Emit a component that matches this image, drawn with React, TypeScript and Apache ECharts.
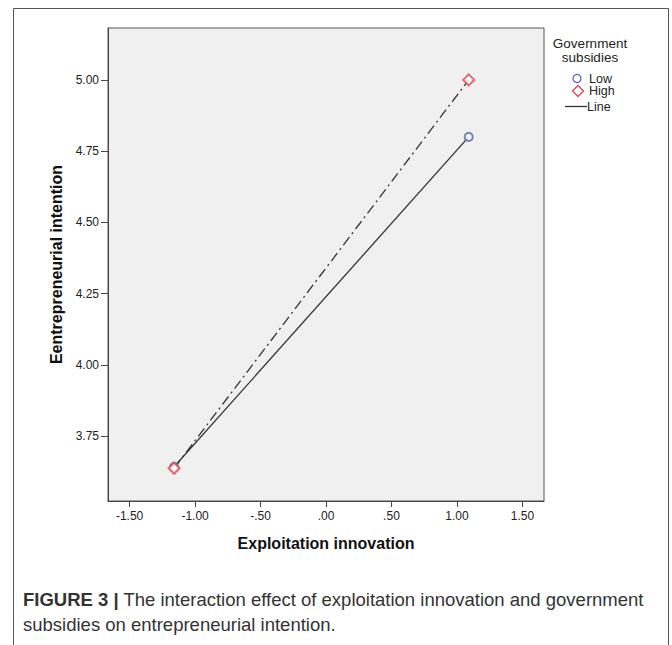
import React, { useEffect, useRef } from "react";
import * as echarts from "echarts";

const groups = ["Low", "High"];
const xValues = [-1.16, 1.09];
const lowValues = [3.643, 4.8];
const highValues = [3.638, 5.0];
const xTicks = [-1.5, -1.0, -0.5, 0, 0.5, 1.0, 1.5];
const xTickLabels = ["-1.50", "-1.00", "-.50", ".00", ".50", "1.00", "1.50"];
const yTicks = [3.75, 4.0, 4.25, 4.5, 4.75, 5.0];
const yTickLabels = ["3.75", "4.00", "4.25", "4.50", "4.75", "5.00"];
const xTitle = "Exploitation innovation";
const yTitle = "Eentrepreneurial intention";
const legendTitle = "Government\nsubsidies";
const lineLegend = "Line";
const captionBold = "FIGURE 3 |";
const captionLine1 = " The interaction effect of exploitation innovation and government";
const captionLine2 = "subsidies on entrepreneurial intention.";

const FONT = "Liberation Sans, Arial, sans-serif";
const LOW_COLOR = "#5566b8";
const HIGH_COLOR = "#e5434d";
const LINE_COLOR = "#333";

function fmt(ticks: number[], labels: string[]) {
  return (v: number) => {
    const i = ticks.findIndex((t) => Math.abs(t - v) < 1e-6);
    return i >= 0 ? labels[i] : "";
  };
}

export default function App() {
  const ref = useRef<HTMLDivElement>(null);
  useEffect(() => {
    if (!ref.current) return;
    const chart = echarts.init(ref.current, undefined, { renderer: "svg" });
    const lowData = xValues.map((x, i) => [x, lowValues[i]]);
    const highData = xValues.map((x, i) => [x, highValues[i]]);
    const legendText = (text: string, x: number, y: number) => ({
      type: "text",
      x,
      y,
      style: {
        text,
        fontFamily: FONT,
        fontSize: 12.5,
        lineHeight: 12,
        fill: "#222",
        verticalAlign: "middle",
        align: "left",
      },
    });
    chart.setOption({
      animation: false,
      backgroundColor: "#ffffff",
      grid: {
        left: 108,
        top: 28,
        right: 128,
        bottom: 144,
        show: true,
        backgroundColor: "#f0f0f0",
        borderColor: "#555",
        borderWidth: 1,
      },
      xAxis: {
        type: "value",
        min: -1.665,
        max: 1.665,
        name: xTitle,
        nameLocation: "middle",
        nameGap: 34,
        nameTextStyle: { fontFamily: FONT, fontWeight: "bold", fontSize: 16, color: "#111" },
        axisLine: { show: true, onZero: false, lineStyle: { color: "#444", width: 1 } },
        axisTick: { show: true, length: 6, customValues: xTicks, lineStyle: { color: "#444" } },
        axisLabel: {
          customValues: xTicks,
          formatter: fmt(xTicks, xTickLabels),
          fontFamily: FONT,
          fontSize: 12,
          color: "#222",
          margin: 9,
        },
        splitLine: { show: false },
      },
      yAxis: {
        type: "value",
        min: 3.523,
        max: 5.182,
        name: yTitle,
        nameLocation: "middle",
        nameGap: 42,
        nameRotate: 90,
        nameTextStyle: { fontFamily: FONT, fontWeight: "bold", fontSize: 16, color: "#111" },
        axisLine: { show: true, onZero: false, lineStyle: { color: "#444", width: 1 } },
        axisTick: { show: true, length: 7, customValues: yTicks, lineStyle: { color: "#444" } },
        axisLabel: {
          customValues: yTicks,
          formatter: fmt(yTicks, yTickLabels),
          fontFamily: FONT,
          fontSize: 12,
          color: "#222",
          margin: 9,
        },
        splitLine: { show: false },
      },
      series: [
        {
          name: lineLegend,
          type: "line",
          data: lowData,
          symbol: "none",
          lineStyle: { color: LINE_COLOR, width: 1.3, type: "solid" },
          z: 2,
        },
        {
          name: "HighLine",
          type: "line",
          data: highData,
          symbol: "none",
          lineStyle: { color: LINE_COLOR, width: 1.3, type: [10, 4, 2, 4] },
          z: 2,
        },
        {
          name: groups[0],
          type: "scatter",
          data: lowData,
          symbol: "emptyCircle",
          symbolSize: 8,
          itemStyle: { color: LOW_COLOR, borderColor: LOW_COLOR, borderWidth: 1.3 },
          z: 3,
        },
        {
          name: groups[1],
          type: "scatter",
          data: highData,
          symbol: "emptyDiamond",
          symbolSize: 11,
          itemStyle: { color: HIGH_COLOR, borderColor: HIGH_COLOR, borderWidth: 1.3 },
          z: 3,
        },
      ],
      graphic: [
        {
          type: "rect",
          shape: { x: 13.5, y: 8.5, width: 655, height: 700 },
          style: { fill: "none", stroke: "#555", lineWidth: 1 },
          silent: true,
        },
        {
          type: "text",
          x: 590,
          y: 36,
          style: {
            text: legendTitle,
            fontFamily: FONT,
            fontSize: 13.5,
            lineHeight: 14,
            fill: "#222",
            align: "center",
            verticalAlign: "top",
          },
        },
        {
          type: "circle",
          shape: { cx: 577, cy: 78.5, r: 4 },
          style: { fill: "none", stroke: LOW_COLOR, lineWidth: 1.3 },
        },
        legendText(groups[0], 589, 78.5),
        {
          type: "polygon",
          shape: { points: [[578, 85.5], [583.5, 91], [578, 96.5], [572.5, 91]] },
          style: { fill: "none", stroke: HIGH_COLOR, lineWidth: 1.3 },
        },
        legendText(groups[1], 589, 91),
        {
          type: "line",
          shape: { x1: 565, y1: 106.5, x2: 587, y2: 106.5 },
          style: { stroke: LINE_COLOR, lineWidth: 1.3 },
        },
        legendText(lineLegend, 587, 106.5),
        {
          type: "text",
          x: 23,
          y: 587,
          style: {
            text: `{b|${captionBold}}{r|${captionLine1}}\n{r|${captionLine2}}`,
            fontFamily: FONT,
            fontSize: 18.5,
            lineHeight: 25,
            fill: "#333",
            verticalAlign: "top",
            rich: {
              b: { fontFamily: FONT, fontSize: 18.5, fontWeight: "bold", fill: "#333", lineHeight: 25 },
              r: { fontFamily: FONT, fontSize: 18.5, fill: "#333", lineHeight: 25 },
            },
          },
        },
      ],
    });
    return () => chart.dispose();
  }, []);
  return (
    <div
      ref={ref}
      style={{ position: "fixed", left: 0, top: 0, width: 672, height: 645 }}
    />
  );
}
